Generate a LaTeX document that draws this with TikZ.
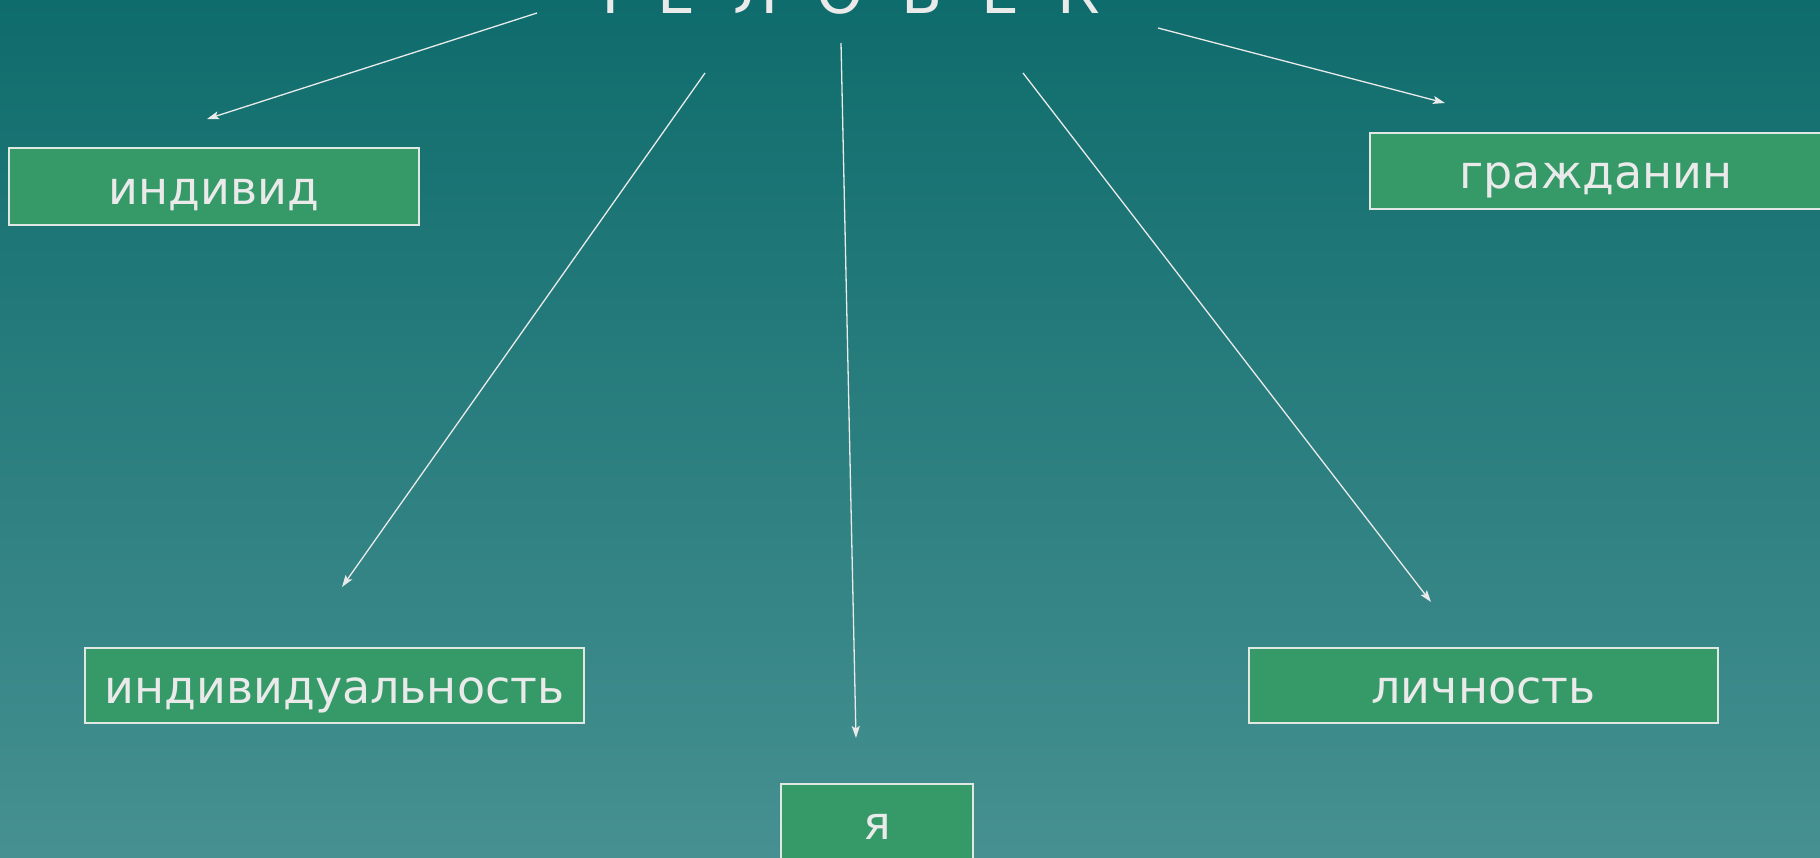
\documentclass[tikz,border=0pt]{standalone}
\usepackage{fontspec}
\setmainfont{DejaVu Sans}
\newfontfamily\titlefont{DejaVu Sans}[WordSpace=2.0]
\usetikzlibrary{arrows.meta}
\definecolor{bgtop}{RGB}{15,108,108}
\definecolor{bgbot}{RGB}{70,144,145}
\definecolor{boxfill}{RGB}{53,154,104}
\definecolor{txt}{RGB}{234,234,234}
\definecolor{edgecol}{RGB}{225,232,228}
\tikzset{
  conbox/.style={draw=edgecol, line width=1.5pt, fill=boxfill, text=txt,
    font=\fontsize{46}{55}\selectfont, text height=44pt, text depth=9pt,
    inner sep=0pt, outer sep=0pt},
  conarrow/.style={draw=txt, line width=1.3pt, -{Stealth[length=12pt,width=8pt,inset=2.5pt]}}
}
\begin{document}
\begin{tikzpicture}[x=1pt,y=-1pt]
\useasboundingbox (0,0) rectangle (1820,857);
\clip (0,0) rectangle (1820,857);
\shade[top color=bgtop,bottom color=bgbot] (0,0) rectangle (1820,857);

\node[font=\titlefont\fontsize{60}{70}\selectfont, text=txt, anchor=base, inner sep=0pt] (title) at (839,13) {Ч Е Л О В Е К};

\node[conbox, minimum width=410pt, minimum height=77pt] (ind) at (214,186.5) {индивид};
\node[conbox, minimum width=452pt, minimum height=76pt] (grazh) at (1596,171) {гражданин};
\node[conbox, minimum width=499pt, minimum height=75pt] (indiv) at (334.5,685.5) {индивидуальность};
\node[conbox, minimum width=469pt, minimum height=75pt] (lich) at (1483.5,685.5) {личность};
\node[conbox, minimum width=192pt, minimum height=76pt] (ya) at (877,822) {я};

\coordinate (a1s) at (537,13);  \coordinate (a1e) at (207,119);
\coordinate (a2s) at (705,73);  \coordinate (a2e) at (342,587);
\coordinate (a3s) at (841,43);  \coordinate (a3e) at (856,738);
\coordinate (a4s) at (1023,73); \coordinate (a4e) at (1431,602);
\coordinate (a5s) at (1158,28); \coordinate (a5e) at (1445,103);

\draw[conarrow] (a1s) -- (a1e);
\draw[conarrow] (a2s) -- (a2e);
\draw[conarrow] (a3s) -- (a3e);
\draw[conarrow] (a4s) -- (a4e);
\draw[conarrow] (a5s) -- (a5e);
\end{tikzpicture}
\end{document}
